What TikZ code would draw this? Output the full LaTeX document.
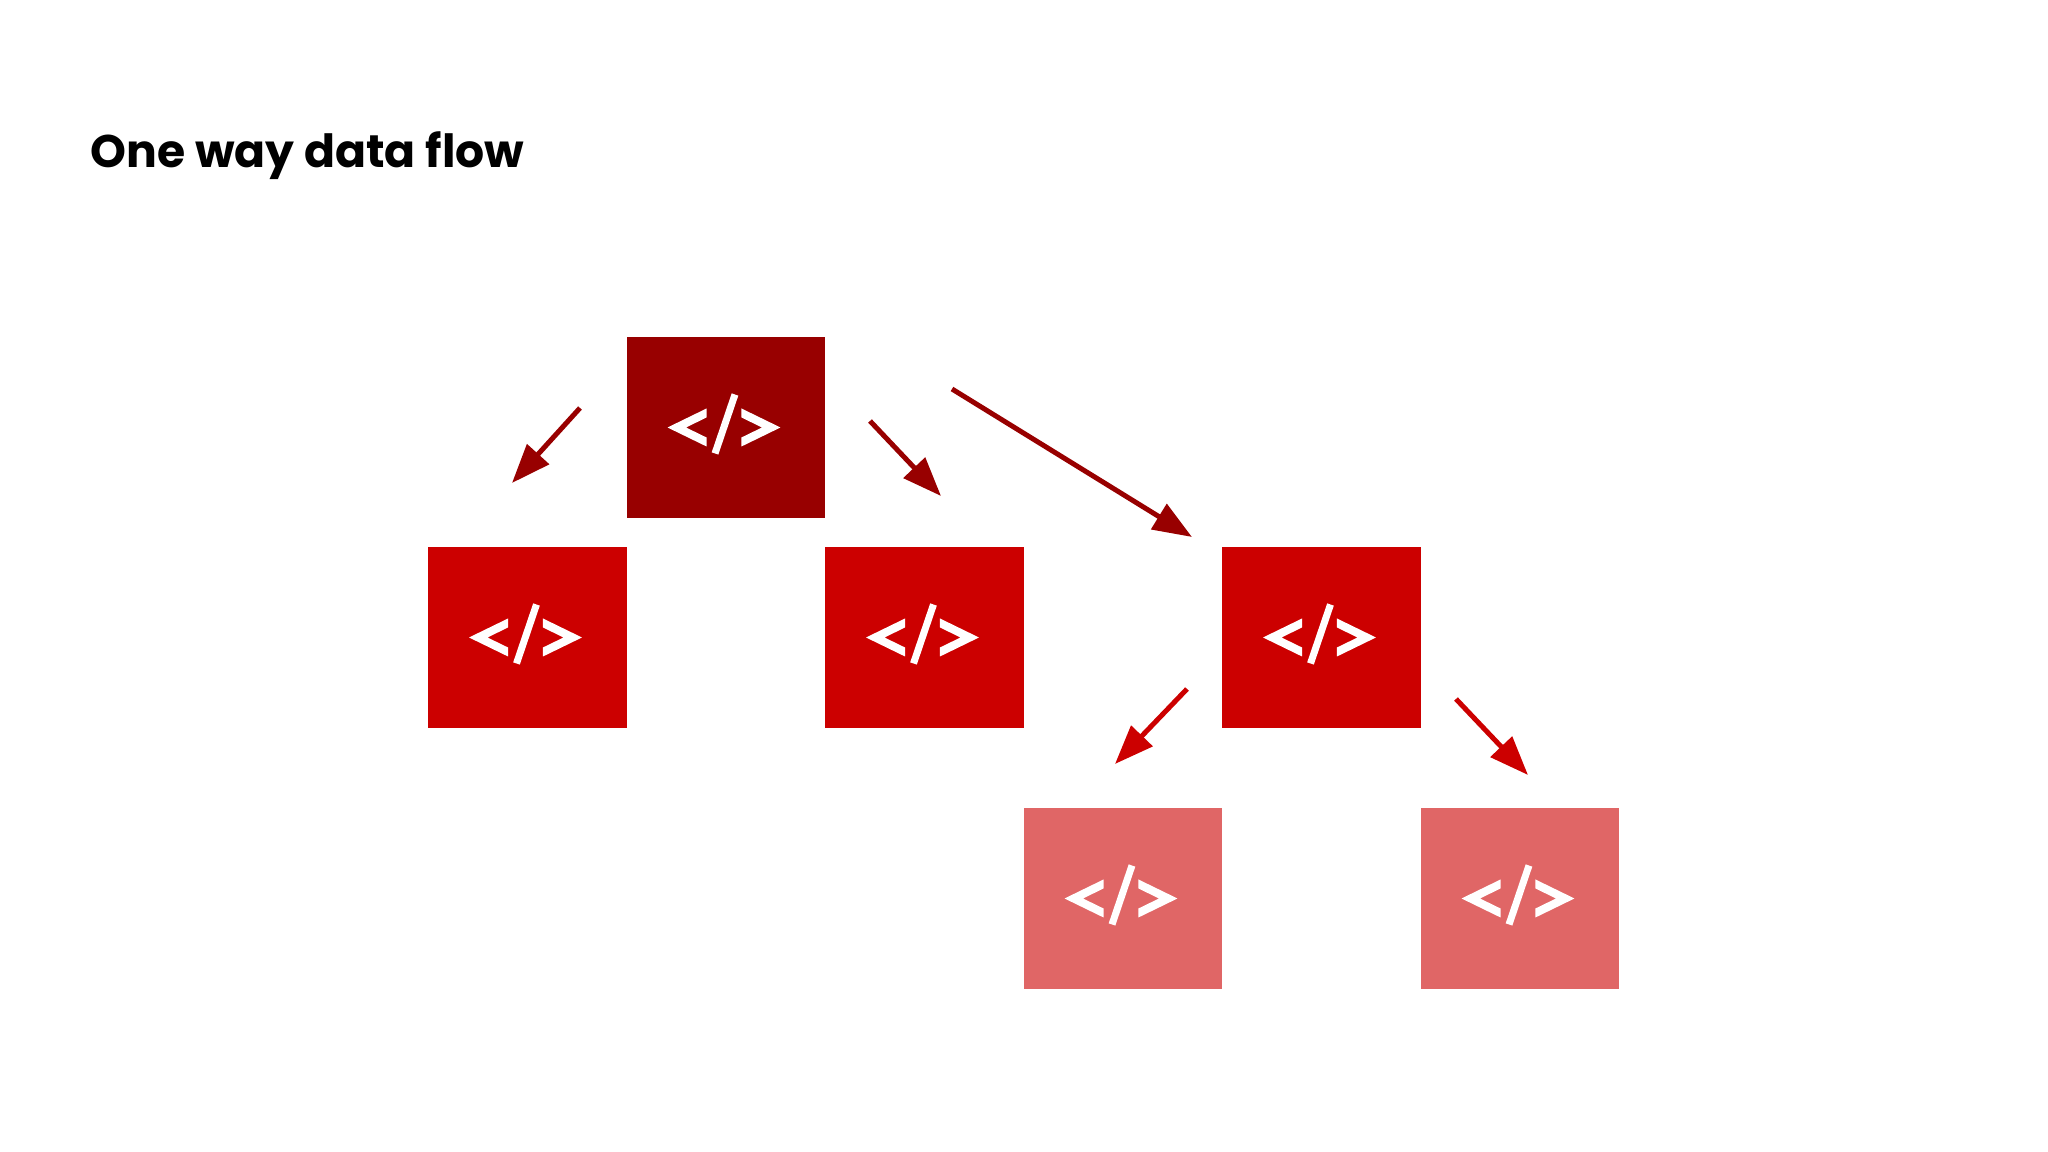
\documentclass[tikz,border=0pt]{standalone}
\usepackage{fontspec}
\setmainfont{Poppins}
\usepackage{tikz}
\usetikzlibrary{arrows.meta}

\definecolor{rootred}{HTML}{980000}
\definecolor{kidred}{HTML}{CC0000}
\definecolor{leafred}{HTML}{E06666}

\tikzset{
  box/.style={fill=#1, draw=none, minimum width=1.985cm, minimum height=1.81cm, inner sep=0pt},
  flow/.style={draw=#1, line width=0.05cm, -{Triangle[length=0.39cm,width=0.29cm]}},
  codeicon/.pic={
    \begin{scope}[x=0.01cm,y=0.01cm]
    \fill[white] (-19.5,19) -- (-58.5,0) -- (-19.5,-19) -- (-19.5,-10) -- (-40,0) -- (-19.5,10) -- cycle;
    \fill[white] (15.5,19) -- (54.5,0) -- (15.5,-19) -- (15.5,-10) -- (36,0) -- (15.5,10) -- cycle;
    \draw[white, line width=0.07cm] (9,33) -- (-11,-26);
    \end{scope}
  }
}

\begin{document}
\begin{tikzpicture}
\useasboundingbox (0,0) rectangle (20.48,11.52);

\node[anchor=base west, inner sep=0pt, font=\bfseries\fontsize{13}{16}\selectfont] (title) at (0.90,9.84) {One way data flow};

\node[box=rootred] (root) at (7.26,7.245) {};
\node[box=kidred] (kidA) at (5.275,5.145) {};
\node[box=kidred] (kidB) at (9.245,5.145) {};
\node[box=kidred] (kidC) at (13.215,5.145) {};
\node[box=leafred] (leafA) at (11.23,2.535) {};
\node[box=leafred] (leafB) at (15.20,2.535) {};
\foreach \n in {root,kidA,kidB,kidC,leafA,leafB}
  \pic at (\n) {codeicon};

\coordinate (a1) at (5.80,7.44);  \coordinate (b1) at (5.12,6.69);
\coordinate (a2) at (8.70,7.31);  \coordinate (b2) at (9.41,6.56);
\coordinate (a3) at (9.52,7.63);  \coordinate (b3) at (11.92,6.15);
\coordinate (a4) at (11.87,4.63); \coordinate (b4) at (11.15,3.88);
\coordinate (a5) at (14.56,4.53); \coordinate (b5) at (15.28,3.77);

\draw[flow=rootred] (a1) -- (b1);
\draw[flow=rootred] (a2) -- (b2);
\draw[flow=rootred] (a3) -- (b3);
\draw[flow=kidred] (a4) -- (b4);
\draw[flow=kidred] (a5) -- (b5);
\end{tikzpicture}
\end{document}
